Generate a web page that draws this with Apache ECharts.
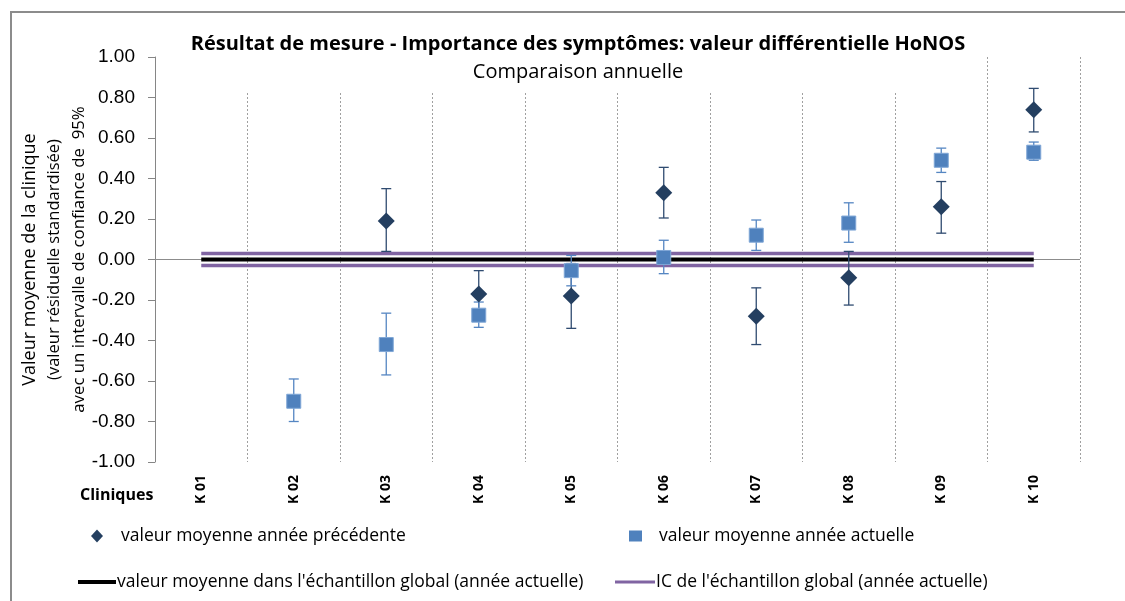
<!DOCTYPE html>
<html>
<head>
<meta charset="utf-8">
<script src="https://cdn.jsdelivr.net/npm/echarts@6/dist/echarts.min.js"></script>
<style>html,body{margin:0;padding:0;background:#fff}#c{width:1125px;height:601px}</style>
</head>
<body>
<div id="c"></div>
<script>
const categories = ['K 01','K 02','K 03','K 04','K 05','K 06','K 07','K 08','K 09','K 10'];
const prevMean = [null, null, 0.19, -0.17, -0.18, 0.33, -0.28, -0.09, 0.26, 0.74];
const prevLow  = [null, null, 0.04, -0.285, -0.34, 0.205, -0.42, -0.225, 0.13, 0.63];
const prevHigh = [null, null, 0.35, -0.055, -0.02, 0.455, -0.14, 0.04, 0.385, 0.845];
const currMean = [null, -0.70, -0.42, -0.275, -0.055, 0.01, 0.12, 0.18, 0.49, 0.53];
const currLow  = [null, -0.80, -0.57, -0.335, -0.13, -0.07, 0.045, 0.085, 0.43, 0.49];
const currHigh = [null, -0.59, -0.265, -0.21, 0.02, 0.095, 0.195, 0.28, 0.55, 0.58];
const globalMean = [0, 0, 0, 0, 0, 0, 0, 0, 0, 0];
const ciUpper = [0.03, 0.03, 0.03, 0.03, 0.03, 0.03, 0.03, 0.03, 0.03, 0.03];
const ciLower = [-0.03, -0.03, -0.03, -0.03, -0.03, -0.03, -0.03, -0.03, -0.03, -0.03];
const yTicks = {min: -1, max: 1, interval: 0.2};

const names = {
  prev: 'valeur moyenne année précédente',
  curr: 'valeur moyenne année actuelle',
  mean: "valeur moyenne dans l'échantillon global (année actuelle)",
  ci: "IC de l'échantillon global (année actuelle)"
};
const C_PREV = '#243F60', C_CURR = '#4F81BD', C_CI = '#8064A2';
const FONT = 'Open Sans';

function errData(low, high) {
  const out = [];
  for (let i = 0; i < categories.length; i++) {
    if (low[i] != null && high[i] != null) out.push([i, low[i], high[i]]);
  }
  return out;
}
function errRender(color) {
  return function (params, api) {
    const lo = api.coord([api.value(0), api.value(1)]);
    const hi = api.coord([api.value(0), api.value(2)]);
    const w = 5;
    const st = {stroke: color, lineWidth: 1.3};
    return {type: 'group', children: [
      {type: 'line', shape: {x1: hi[0], y1: hi[1], x2: lo[0], y2: lo[1]}, style: st},
      {type: 'line', shape: {x1: hi[0]-w, y1: hi[1], x2: hi[0]+w, y2: hi[1]}, style: st},
      {type: 'line', shape: {x1: lo[0]-w, y1: lo[1], x2: lo[0]+w, y2: lo[1]}, style: st}
    ]};
  };
}

const legText = {fontFamily: FONT, fontSize: 17.5, color: '#000'};
const chart = echarts.init(document.getElementById('c'), null, {renderer: 'canvas'});
chart.setOption({
  animation: false,
  backgroundColor: '#fff',
  title: [
    {
      text: 'Résultat de mesure - Importance des symptômes: valeur différentielle HoNOS',
      subtext: 'Comparaison annuelle',
      left: 573, top: 29, textAlign: 'center', itemGap: 8,
      textStyle: {fontFamily: FONT, fontWeight: 'bold', fontSize: 20, color: '#000'},
      subtextStyle: {fontFamily: FONT, fontSize: 20, color: '#000'}
    },
    {
      text: 'Cliniques', left: 75, top: 482,
      textStyle: {fontFamily: FONT, fontWeight: 'bold', fontSize: 16, color: '#000'}
    }
  ],
  graphic: [
    {type: 'rect', z: 5, shape: {x: 160, y: 50, width: 815, height: 41}, style: {fill: '#fff'}},
    {type: 'rect', z: 100, shape: {x: 11, y: 12, width: 1200, height: 700}, style: {fill: 'none', stroke: '#8c8c8c', lineWidth: 2}}
  ],
  legend: [
    {left: 91, top: 527, padding: 0, itemWidth: 12, itemHeight: 13,
      data: [{name: names.prev, icon: 'diamond'}],
      textStyle: Object.assign({padding: [0,0,0,13]}, legText)},
    {left: 629, top: 527, padding: 0, itemWidth: 13, itemHeight: 11,
      data: [{name: names.curr, icon: 'rect', itemStyle: {borderWidth: 0}}],
      textStyle: Object.assign({padding: [0,0,0,12]}, legText)},
    {left: 78, top: 573, padding: 0, itemWidth: 38, itemHeight: 4,
      data: [{name: names.mean, icon: 'rect'}],
      textStyle: Object.assign({padding: [0,0,0,-4]}, legText)},
    {left: 615, top: 573, padding: 0, itemWidth: 40, itemHeight: 3,
      data: [{name: names.ci, icon: 'rect'}],
      textStyle: Object.assign({padding: [0,0,0,-4]}, legText)}
  ],
  grid: {left: 155, right: 45, top: 57, bottom: 139, containLabel: false},
  xAxis: {
    type: 'category', data: categories, boundaryGap: true,
    axisLine: {show: false, onZero: false},
    axisTick: {show: false},
    axisLabel: {rotate: 90, margin: 13, fontFamily: FONT, fontWeight: 'bold', fontSize: 14, color: '#000'},
    splitLine: {show: true, interval: 0, lineStyle: {color: '#a0a0a0', type: [2, 2], width: 1}}
  },
  yAxis: {
    type: 'value', min: yTicks.min, max: yTicks.max, interval: yTicks.interval,
    name: '{a|Valeur moyenne de la clinique}\n{b|(valeur résiduelle standardisée)}\n{c|avec un intervalle de confiance de  95%}',
    nameLocation: 'middle', nameRotate: 90, nameGap: 63, nameMoveOverlap: false,
    nameTextStyle: {
      align: 'center', lineHeight: 25,
      rich: {
        a: {fontFamily: FONT, fontSize: 18, color: '#000', lineHeight: 25},
        b: {fontFamily: FONT, fontSize: 16.5, color: '#000', lineHeight: 25},
        c: {fontFamily: FONT, fontSize: 16.8, color: '#000', lineHeight: 25}
      }
    },
    axisLine: {show: true, lineStyle: {color: '#868686', width: 1}},
    axisTick: {show: true, length: 7, lineStyle: {color: '#868686'}},
    axisLabel: {margin: 20, fontFamily: 'Liberation Sans', fontSize: 19, color: '#000',
      formatter: v => v.toFixed(2)},
    splitLine: {show: false}
  },
  series: [
    {
      name: names.ci, type: 'line', data: ciUpper, symbol: 'none', z: 2,
      itemStyle: {color: C_CI}, lineStyle: {color: C_CI, width: 3.5}
    },
    {
      name: names.ci, type: 'line', data: ciLower, symbol: 'none', z: 2,
      itemStyle: {color: C_CI}, lineStyle: {color: C_CI, width: 3.5}
    },
    {
      name: names.mean, type: 'line', data: globalMean, symbol: 'none', z: 3,
      itemStyle: {color: '#000'}, lineStyle: {color: '#000', width: 4},
      markLine: {silent: true, symbol: 'none', label: {show: false},
        lineStyle: {color: '#8c8c8c', width: 1, type: 'solid'}, data: [{yAxis: 0}], z: 1}
    },
    {
      name: names.prev + ' IC', type: 'custom', z: 4,
      renderItem: errRender('#2f4b70'), data: errData(prevLow, prevHigh),
      encode: {x: 0, y: [1, 2]}
    },
    {
      name: names.curr + ' IC', type: 'custom', z: 4,
      renderItem: errRender('#5586c2'), data: errData(currLow, currHigh),
      encode: {x: 0, y: [1, 2]}
    },
    {
      name: names.prev, type: 'scatter', data: prevMean, symbol: 'diamond', symbolSize: [17, 17], z: 5,
      itemStyle: {color: C_PREV, opacity: 1}
    },
    {
      name: names.curr, type: 'scatter', data: currMean, symbol: 'rect', symbolSize: [14, 14], z: 6,
      itemStyle: {color: C_CURR, opacity: 1, borderColor: '#7fa6d6', borderWidth: 1}
    }
  ]
});
</script>
</body>
</html>
